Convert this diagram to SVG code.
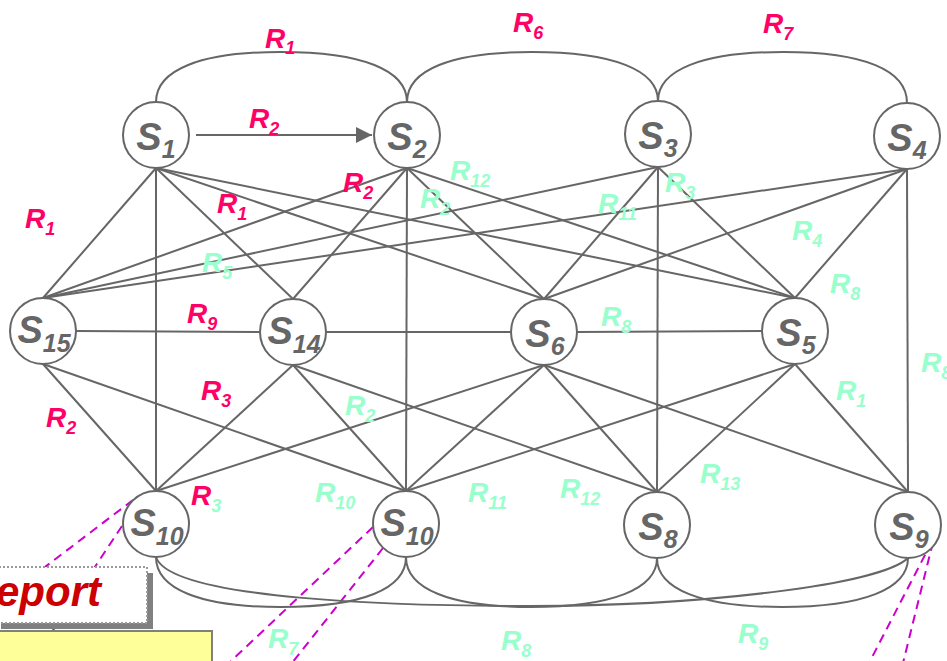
<svg xmlns="http://www.w3.org/2000/svg" width="947" height="661" viewBox="0 0 947 661">
  <defs>
    <style>
      .e { stroke: #666; stroke-width: 2; fill: none; }
      .node circle { fill: #fff; stroke: #666; stroke-width: 2; }
      .nl { font-family: "Liberation Sans", Arial, sans-serif; font-style: italic; font-weight: bold; font-size: 38px; fill: #666; text-anchor: middle; }
      .ns { font-size: 25px; }
      .lb { font-family: "Liberation Sans", Arial, sans-serif; font-style: italic; font-weight: bold; font-size: 28px; }
      .r { fill: #ff0066; }
      .g { fill: #99ffcc; }
      .sb { font-size: 18px; }
      .dash { stroke: #cc00cc; stroke-width: 2; stroke-dasharray: 9 6; fill: none; }
    </style>
    <marker id="arrow" markerUnits="userSpaceOnUse" markerWidth="17" markerHeight="16" refX="16" refY="8" orient="auto">
      <path d="M0,0 L16,8 L0,16 z" fill="#666"/>
    </marker>
  </defs>

  <rect width="947" height="661" fill="#fff"/>

  <!-- callout leader lines (drawn first so boxes sit on top) -->
  <g id="callout-lines">
    <line class="dash" x1="133" y1="500" x2="20" y2="586"/>
    <line class="dash" x1="122" y1="526" x2="30" y2="665"/>
    <line class="dash" x1="373" y1="527" x2="229" y2="663"/>
    <line class="dash" x1="383" y1="548" x2="292" y2="663"/>
    <line class="dash" x1="939" y1="528" x2="869" y2="663"/>
    <line class="dash" x1="933" y1="542" x2="903" y2="663"/>
  </g>

  <g id="connectors">
    <!-- arcs between top-row neighbours -->
    <path class="e" d="M156,102 C156,70 200,52 281,52 C362,52 407,70 407,102"/>
    <path class="e" d="M407,102 C407,70 451,52 532,52 C613,52 658,70 658,101"/>
    <path class="e" d="M658,101 C658,70 702,52 783,52 C864,52 907,70 907,103"/>
    <!-- arcs between bottom-row neighbours -->
    <path class="e" d="M156,557 C156,589 200,607 281,607 C362,607 406,589 406,557"/>
    <path class="e" d="M406,557 C406,589 450,607 531,607 C612,607 657,589 657,558"/>
    <path class="e" d="M657,558 C657,589 701,607 782,607 C863,607 908,589 908,558"/>
    <path class="e" d="M156,557 C170,600 400,606 530,606 C700,606 880,585 908,558"/>

    <!-- directed edge S1 -> S2 -->
    <line class="e" x1="196" y1="135" x2="372" y2="135" marker-end="url(#arrow)"/>

    <!-- from S1 -->
    <line class="e" x1="156" y1="168" x2="43" y2="298"/>
    <line class="e" x1="156" y1="168" x2="156" y2="491"/>
    <line class="e" x1="156" y1="168" x2="293" y2="299"/>
    <line class="e" x1="156" y1="168" x2="544" y2="299"/>
    <line class="e" x1="156" y1="168" x2="795" y2="298"/>
    <!-- from S2 -->
    <line class="e" x1="407" y1="168" x2="43" y2="298"/>
    <line class="e" x1="407" y1="168" x2="293" y2="299"/>
    <line class="e" x1="407" y1="168" x2="406" y2="491"/>
    <line class="e" x1="407" y1="168" x2="544" y2="299"/>
    <line class="e" x1="407" y1="168" x2="795" y2="298"/>
    <!-- from S3 -->
    <line class="e" x1="658" y1="167" x2="43" y2="298"/>
    <line class="e" x1="658" y1="167" x2="544" y2="299"/>
    <line class="e" x1="658" y1="167" x2="657" y2="492"/>
    <line class="e" x1="658" y1="167" x2="795" y2="298"/>
    <!-- from S4 -->
    <line class="e" x1="907" y1="169" x2="43" y2="298"/>
    <line class="e" x1="907" y1="169" x2="544" y2="299"/>
    <line class="e" x1="907" y1="169" x2="795" y2="298"/>
    <line class="e" x1="907" y1="169" x2="908" y2="492"/>

    <!-- middle row -->
    <line class="e" x1="76" y1="331" x2="260" y2="332"/>
    <line class="e" x1="326" y1="332" x2="511" y2="332"/>
    <line class="e" x1="577" y1="332" x2="762" y2="331"/>

    <!-- middle row to bottom row -->
    <line class="e" x1="43" y1="364" x2="156" y2="491"/>
    <line class="e" x1="43" y1="364" x2="406" y2="491"/>
    <line class="e" x1="293" y1="365" x2="156" y2="491"/>
    <line class="e" x1="293" y1="365" x2="406" y2="491"/>
    <line class="e" x1="293" y1="365" x2="657" y2="492"/>
    <line class="e" x1="544" y1="365" x2="156" y2="491"/>
    <line class="e" x1="544" y1="365" x2="406" y2="491"/>
    <line class="e" x1="544" y1="365" x2="657" y2="492"/>
    <line class="e" x1="544" y1="365" x2="908" y2="492"/>
    <line class="e" x1="795" y1="364" x2="406" y2="491"/>
    <line class="e" x1="795" y1="364" x2="657" y2="492"/>
    <line class="e" x1="795" y1="364" x2="908" y2="492"/>
  </g>

  <g id="node-s1" class="node"><circle cx="156" cy="135" r="33"/><text class="nl" x="156" y="150">S<tspan class="ns" dy="8">1</tspan></text></g>
  <g id="node-s2" class="node"><circle cx="407" cy="135" r="33"/><text class="nl" x="407" y="150">S<tspan class="ns" dy="8">2</tspan></text></g>
  <g id="node-s3" class="node"><circle cx="658" cy="134" r="33"/><text class="nl" x="658" y="149">S<tspan class="ns" dy="8">3</tspan></text></g>
  <g id="node-s4" class="node"><circle cx="907" cy="136" r="33"/><text class="nl" x="907" y="151">S<tspan class="ns" dy="8">4</tspan></text></g>
  <g id="node-s15" class="node"><circle cx="43" cy="331" r="33"/><text class="nl" x="44" y="343">S<tspan class="ns" dy="9">15</tspan></text></g>
  <g id="node-s14" class="node"><circle cx="293" cy="332" r="33"/><text class="nl" x="294" y="344">S<tspan class="ns" dy="9">14</tspan></text></g>
  <g id="node-s6" class="node"><circle cx="544" cy="332" r="33"/><text class="nl" x="545" y="347">S<tspan class="ns" dy="8">6</tspan></text></g>
  <g id="node-s5" class="node"><circle cx="795" cy="331" r="33"/><text class="nl" x="796" y="346">S<tspan class="ns" dy="8">5</tspan></text></g>
  <g id="node-s10a" class="node"><circle cx="156" cy="524" r="33"/><text class="nl" x="157" y="536">S<tspan class="ns" dy="9">10</tspan></text></g>
  <g id="node-s10b" class="node"><circle cx="406" cy="524" r="33"/><text class="nl" x="407" y="536">S<tspan class="ns" dy="9">10</tspan></text></g>
  <g id="node-s8" class="node"><circle cx="657" cy="525" r="33"/><text class="nl" x="658" y="540">S<tspan class="ns" dy="8">8</tspan></text></g>
  <g id="node-s9" class="node"><circle cx="908" cy="525" r="33"/><text class="nl" x="909" y="540">S<tspan class="ns" dy="8">9</tspan></text></g>

  <g id="labels" class="lb">
    <text class="r" x="265" y="48">R<tspan class="sb" dy="6">1</tspan></text>
    <text class="r" x="513" y="32">R<tspan class="sb" dy="7">6</tspan></text>
    <text class="r" x="763" y="33">R<tspan class="sb" dy="7">7</tspan></text>
    <text class="r" x="249" y="128">R<tspan class="sb" dy="7">2</tspan></text>
    <text class="r" x="25" y="228">R<tspan class="sb" dy="7">1</tspan></text>
    <text class="r" x="217" y="213">R<tspan class="sb" dy="7">1</tspan></text>
    <text class="r" x="343" y="192">R<tspan class="sb" dy="7">2</tspan></text>
    <text class="r" x="187" y="323">R<tspan class="sb" dy="7">9</tspan></text>
    <text class="r" x="201" y="400">R<tspan class="sb" dy="7">3</tspan></text>
    <text class="r" x="46" y="427">R<tspan class="sb" dy="7">2</tspan></text>
    <text class="r" x="191" y="505">R<tspan class="sb g" dy="7">3</tspan></text>

    <text class="g" x="450" y="180">R<tspan class="sb" dy="7">12</tspan></text>
    <text class="g" x="420" y="208">R<tspan class="sb" dy="7">2</tspan></text>
    <text class="g" x="665" y="192">R<tspan class="sb" dy="7">3</tspan></text>
    <text class="g" x="598" y="213">R<tspan class="sb" dy="7">11</tspan></text>
    <text class="g" x="792" y="240">R<tspan class="sb" dy="7">4</tspan></text>
    <text class="g" x="830" y="293">R<tspan class="sb" dy="7">8</tspan></text>
    <text class="g" x="202" y="272">R<tspan class="sb" dy="7">5</tspan></text>
    <text class="g" x="601" y="326">R<tspan class="sb" dy="7">8</tspan></text>
    <text class="g" x="921" y="372">R<tspan class="sb" dy="7">8</tspan></text>
    <text class="g" x="836" y="400">R<tspan class="sb" dy="7">1</tspan></text>
    <text class="g" x="345" y="415">R<tspan class="sb" dy="7">2</tspan></text>
    <text class="g" x="315" y="502">R<tspan class="sb" dy="7">10</tspan></text>
    <text class="g" x="468" y="502">R<tspan class="sb" dy="7">11</tspan></text>
    <text class="g" x="560" y="498">R<tspan class="sb" dy="7">12</tspan></text>
    <text class="g" x="700" y="483">R<tspan class="sb" dy="7">13</tspan></text>
    <text class="g" x="268" y="648">R<tspan class="sb" dy="7">7</tspan></text>
    <text class="g" x="501" y="650">R<tspan class="sb" dy="7">8</tspan></text>
    <text class="g" x="738" y="643">R<tspan class="sb" dy="7">9</tspan></text>
  </g>

  <!-- title box with drop shadow, and the note box below it -->
  <g id="report-box">
    <rect x="1" y="573" width="152" height="56" fill="#808080"/>
    <rect x="-5" y="567" width="152" height="56" fill="#fff" stroke="#999" stroke-width="2" stroke-dasharray="2 2"/>
    <text x="-4" y="606" font-family="Liberation Sans, Arial, sans-serif" font-style="italic" font-weight="bold" font-size="42" fill="#cc0000">eport</text>
  </g>
  <g id="note-box">
    <rect x="-5" y="631" width="217" height="40" fill="#ffff99" stroke="#808080" stroke-width="2"/>
  </g>
</svg>
